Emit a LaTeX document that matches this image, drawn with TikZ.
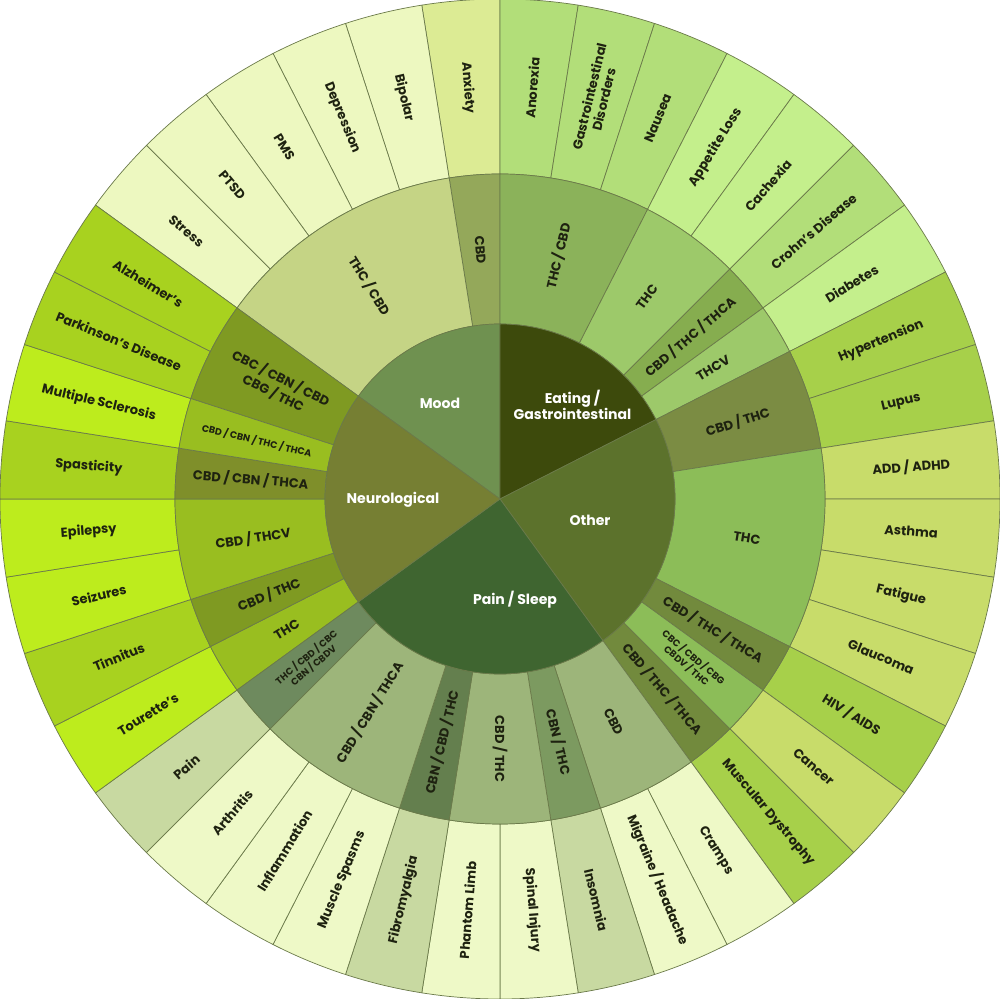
\documentclass[tikz,border=0pt]{standalone}
\usepackage{fontspec}
\setmainfont{Poppins}
\usetikzlibrary{positioning}
\definecolor{txtdark}{HTML}{1E2210}
\definecolor{segline}{HTML}{6B7A4A}
% outer ring
\definecolor{moodA}{HTML}{DCEB94}
\definecolor{moodL}{HTML}{EDF8C0}
\definecolor{eatA}{HTML}{B2DE79}
\definecolor{eatB}{HTML}{C4EF8C}
\definecolor{othA}{HTML}{A7D04A}
\definecolor{othB}{HTML}{C8DC6A}
\definecolor{painL}{HTML}{EEF9C7}
\definecolor{painD}{HTML}{C8D9A1}
\definecolor{neuA}{HTML}{BDEC1D}
\definecolor{neuB}{HTML}{A8D21F}
% middle ring
\definecolor{mMoodA}{HTML}{94A85A}
\definecolor{mMoodB}{HTML}{C5D485}
\definecolor{mEatA}{HTML}{8BB25A}
\definecolor{mEatB}{HTML}{9DC96A}
\definecolor{mEatC}{HTML}{86AD4F}
\definecolor{mOthA}{HTML}{7B8C43}
\definecolor{mOthB}{HTML}{8CBD58}
\definecolor{mOthC}{HTML}{728A3D}
\definecolor{mPainA}{HTML}{9DB57A}
\definecolor{mPainB}{HTML}{7C9A60}
\definecolor{mPainC}{HTML}{647F4E}
\definecolor{mPainD}{HTML}{6E8A5E}
\definecolor{mNeuA}{HTML}{99BE20}
\definecolor{mNeuB}{HTML}{7F9A22}
\definecolor{mNeuC}{HTML}{7F8F2A}
% inner circle
\definecolor{iMood}{HTML}{6F9150}
\definecolor{iEat}{HTML}{3D4A0C}
\definecolor{iOth}{HTML}{5C722C}
\definecolor{iPain}{HTML}{3F6530}
\definecolor{iNeu}{HTML}{767F33}

\begin{document}
\begin{tikzpicture}[
  wedge/.style={draw=segline,line width=0.4pt},
  lbl/.style={text=txtdark,font=\bfseries\fontsize{7.4}{8.4}\selectfont,align=center},
  smalllbl/.style={text=txtdark,font=\bfseries\fontsize{5.4}{6.2}\selectfont,align=center},
  hub/.style={text=white,font=\bfseries\fontsize{8}{9}\selectfont,align=center}
]
\useasboundingbox (-10,-10) rectangle (10,9.98);

% outer ring: start/end angle/colour/text
\foreach \a/\b/\c/\t in {
  90/99/moodA/{Anxiety}, 99/108/moodL/{Bipolar}, 108/117/moodL/{Depression},
  117/126/moodL/{PMS}, 126/135/moodL/{PTSD}, 135/144/moodL/{Stress},
  81/90/eatA/{Anorexia}, 72/81/eatA/{Gastrointestinal\\Disorders}, 63/72/eatA/{Nausea},
  54/63/eatB/{Appetite Loss}, 45/54/eatB/{Cachexia}, 36/45/eatA/{Crohn's Disease},
  27/36/eatB/{Diabetes},
  18/27/othA/{Hypertension}, 9/18/othA/{Lupus}, 0/9/othB/{ADD / ADHD},
  -9/0/othB/{Asthma}, -18/-9/othB/{Fatigue}, -27/-18/othB/{Glaucoma},
  -36/-27/othA/{HIV / AIDS}, -45/-36/othB/{Cancer}, -54/-45/othA/{Muscular Dystrophy},
  -63/-54/painL/{Cramps}, -72/-63/painL/{Migraine / Headache}, -81/-72/painD/{Insomnia},
  -90/-81/painL/{Spinal Injury}, -99/-90/painL/{Phantom Limb}, -108/-99/painD/{Fibromyalgia},
  -117/-108/painL/{Muscle Spasms}, -126/-117/painL/{Inflammation}, -135/-126/painL/{Arthritis},
  -144/-135/painD/{Pain},
  207/216/neuA/{Tourette's}, 198/207/neuB/{Tinnitus}, 189/198/neuA/{Seizures},
  180/189/neuA/{Epilepsy}, 171/180/neuB/{Spasticity}, 162/171/neuA/{Multiple Sclerosis},
  153/162/neuB/{Parkinson's Disease}, 144/153/neuB/{Alzheimer's}}{
  \pgfmathsetmacro\m{(\a+\b)/2}
  \pgfmathsetmacro\r{ifthenelse(cos(\m)<0,\m+180,\m)}
  \draw[wedge,fill=\c] (\a:6.5) arc[start angle=\a,end angle=\b,radius=6.5]
    -- (\b:10) arc[start angle=\b,end angle=\a,radius=10] -- cycle;
  \node[lbl,rotate=\r] at (\m:8.25) {\t};
}

% middle ring
\foreach \a/\b/\c/\t in {
  90/99/mMoodA/{CBD}, 99/144/mMoodB/{THC / CBD},
  63/90/mEatA/{THC / CBD}, 45/63/mEatB/{THC}, 36/45/mEatC/{CBD / THC / THCA}, 27/36/mEatB/{THCV},
  9/27/mOthA/{CBD / THC}, -27/9/mOthB/{THC}, -36/-27/mOthC/{CBD / THC / THCA},
  -54/-45/mOthC/{CBD / THC / THCA},
  -72/-54/mPainA/{CBD}, -81/-72/mPainB/{CBN / THC}, -99/-81/mPainA/{CBD / THC},
  -108/-99/mPainC/{CBN / CBD / THC}, -135/-108/mPainA/{CBD / CBN / THCA},
  207/216/mNeuA/{THC}, 198/207/mNeuB/{CBD / THC}, 180/198/mNeuA/{CBD / THCV},
  171/180/mNeuC/{CBD / CBN / THCA},
  144/162/mNeuB/{CBC / CBN / CBD\\CBG / THC}}{
  \pgfmathsetmacro\m{(\a+\b)/2}
  \pgfmathsetmacro\r{ifthenelse(cos(\m)<0,\m+180,\m)}
  \draw[wedge,fill=\c] (\a:3.5) arc[start angle=\a,end angle=\b,radius=3.5]
    -- (\b:6.5) arc[start angle=\b,end angle=\a,radius=6.5] -- cycle;
  \node[lbl,rotate=\r] at (\m:5) {\t};
}
\foreach \a/\b/\c/\t in {
  -45/-36/mOthB/{CBC / CBD / CBG\\CBDV / THC},
  -144/-135/mPainD/{THC / CBD / CBC\\CBN / CBDV},
  162/171/mNeuA/{CBD / CBN / THC / THCA}}{
  \pgfmathsetmacro\m{(\a+\b)/2}
  \pgfmathsetmacro\r{ifthenelse(cos(\m)<0,\m+180,\m)}
  \draw[wedge,fill=\c] (\a:3.5) arc[start angle=\a,end angle=\b,radius=3.5]
    -- (\b:6.5) arc[start angle=\b,end angle=\a,radius=6.5] -- cycle;
  \node[smalllbl,rotate=\r] at (\m:5) {\t};
}

% inner circle
\foreach \a/\b/\c in {90/144/iMood, 27/90/iEat, -54/27/iOth, -144/-54/iPain, 144/216/iNeu}{
  \draw[wedge,fill=\c] (0,0) -- (\a:3.5) arc[start angle=\a,end angle=\b,radius=3.5] -- cycle;
}
\node[hub] (mood) at (-1.2,1.92) {Mood};
\node[hub] (eating) at (1.45,1.88) {Eating /\\Gastrointestinal};
\node[hub] (other) at (1.8,-0.42) {Other};
\node[hub] (pain) at (0.3,-2.02) {Pain / Sleep};
\node[hub] (neuro) at (-2.14,-0.02) {Neurological};
\end{tikzpicture}
\end{document}
